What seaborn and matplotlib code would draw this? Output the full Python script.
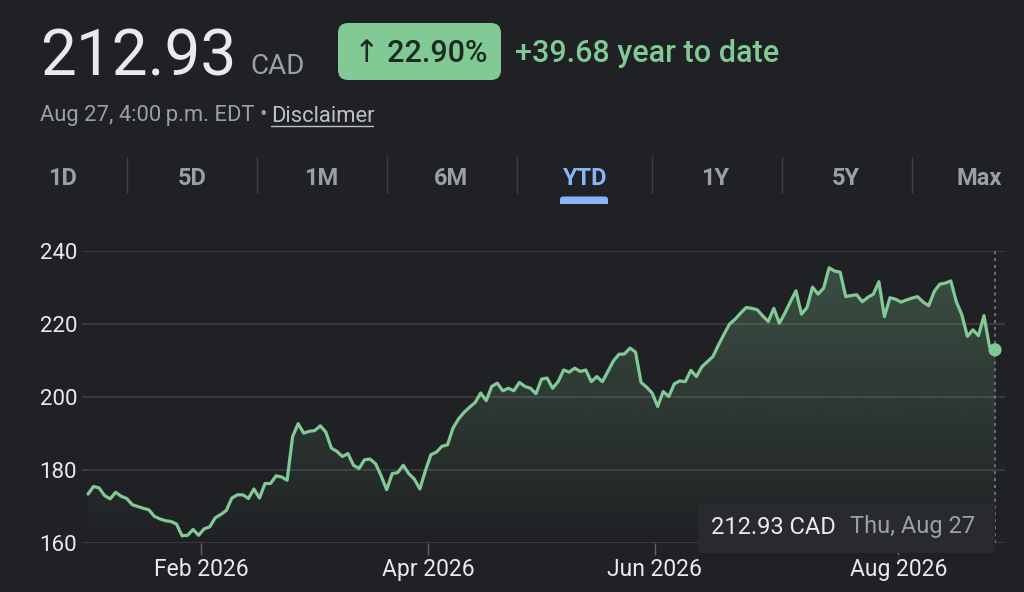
import numpy as np
import pandas as pd
import matplotlib
matplotlib.use("Agg")
import matplotlib.pyplot as plt
import seaborn as sns
from matplotlib.patches import FancyBboxPatch, Rectangle
from matplotlib.lines import Line2D
from matplotlib.colors import to_rgb

# ---------------- data ----------------
holidays = ["2026-01-01", "2026-02-16", "2026-04-03", "2026-05-18", "2026-07-01", "2026-08-03"]
prices = [
    173.4, 175.5, 175.1, 173.0, 172.1, 173.9, 172.8, 172.2, 170.5, 170.0,
    169.5, 169.1, 167.3, 166.6, 166.1, 165.9, 165.2, 162.0, 162.1, 163.7,
    162.1, 163.9, 164.4, 166.9, 167.8, 168.9, 172.3, 173.2, 173.2, 172.2,
    174.8,
    172.3, 176.3, 176.3, 178.4, 178.1, 177.2, 189.2, 192.7, 190.1, 190.6,
    190.8, 192.1, 190.4, 186.0, 185.1, 183.7, 184.5, 181.3, 180.4, 182.8,
    183.0, 181.7, 178.4, 174.6, 179.0, 179.3, 181.3, 179.0, 177.5, 174.8,
    179.8, 184.2, 184.9, 186.5, 186.9,
    191.5, 194.0, 195.8, 197.2, 198.5, 201.1, 199.0, 202.9, 203.8, 201.7,
    202.4, 201.7, 204.0, 202.9, 202.4, 200.9, 204.9, 205.2, 202.4, 204.2,
    207.4, 206.8, 207.9, 207.0, 207.4, 204.2, 205.6, 204.2, 207.0, 209.9,
    211.7, 211.8, 213.4, 212.3, 204.0, 202.7, 201.1, 197.4, 201.5, 200.1,
    203.6, 204.4, 204.2, 207.3, 205.6, 208.3, 209.7, 211.1, 214.3, 217.2,
    220.0, 221.3, 223.0, 224.5, 224.3, 223.9, 222.2, 220.7, 224.3, 220.2,
    223.0, 226.1, 229.1, 222.7, 224.5, 230.1, 228.2, 229.8, 235.4, 234.5,
    234.2, 227.5, 227.8, 228.0, 226.1, 227.3, 228.2, 231.6, 222.0, 227.2,
    226.8, 226.0, 226.6, 227.1, 227.5, 226.0, 225.0, 228.9, 230.9, 231.2,
    231.8, 226.1, 222.5, 216.6, 218.4, 216.8, 222.3, 213.8, 212.93,
]
y_ticks = [160, 180, 200, 220, 240]
x_tick_months = ["2026-02-01", "2026-04-01", "2026-06-01", "2026-08-01"]
x_tick_labels = ["Feb 2026", "Apr 2026", "Jun 2026", "Aug 2026"]
tabs = ["1D", "5D", "1M", "6M", "YTD", "1Y", "5Y", "Max"]
active_tab = "YTD"

price_text = "212.93"
currency = "CAD"
pct_text = "\u2191 22.90%"
change_text = "+39.68 year to date"
stamp_text = "Aug 27, 4:00\u2009p.m. EDT \u2022"
disclaimer = "Disclaimer"
tip_price = "212.93 CAD"
tip_date = "Thu, Aug 27"

dates = pd.bdate_range("2026-01-02", "2026-08-27")
dates = dates[~dates.isin(pd.to_datetime(holidays))]
n = min(len(dates), len(prices))
df = pd.DataFrame({"date": dates[:n], "price": prices[:n], "idx": np.arange(n)})

# ---------------- style ----------------
BG = "#202124"
GREEN = "#81c995"
GRID = "#3c4043"
WHITE = "#e8eaed"
GREY = "#9aa0a6"
BLUE = "#8ab4f8"

sns.set_theme(style="dark")
plt.rcParams["font.family"] = ["Roboto", "DejaVu Sans"]
plt.rcParams["figure.facecolor"] = BG
plt.rcParams["axes.facecolor"] = BG

W, H = 1024, 592
fig = plt.figure(figsize=(W / 100, H / 100), dpi=100)
T = fig.dpi_scale_trans


def px(x, y):
    return x / 100, (H - y) / 100


ax = fig.add_axes([82 / W, (H - 543) / H, 923 / W, 292 / H])
ax.set_facecolor(BG)

xmin, xmax = -1.085, 165.8
ymin, ymax = 160, 240

# gradient fill under the line
poly = ax.fill_between(df["idx"], df["price"], ymin, color="none", lw=0)
grad = np.linspace(0, 1, 256).reshape(-1, 1)
rgba = np.zeros((256, 1, 4))
rgba[..., :3] = to_rgb(GREEN)
rgba[..., 3] = grad[..., 0:1] * 0.29
im = ax.imshow(rgba, extent=[xmin, xmax, ymin, ymax], origin="lower",
               aspect="auto", zorder=1, interpolation="bilinear")
im.set_clip_path(poly.get_paths()[0], transform=ax.transData)

sns.lineplot(data=df, x="idx", y="price", ax=ax, color=GREEN, linewidth=2.3,
             estimator=None, zorder=3)
ax.axvline(df["idx"].iloc[-1], color="#80868b", lw=1.1, ls=(0, (2, 2.5)), zorder=2)
ax.scatter([df["idx"].iloc[-1]], [df["price"].iloc[-1]], s=90, color=GREEN,
           zorder=4, edgecolors="none")

ax.set_xlim(xmin, xmax)
ax.set_ylim(ymin, ymax)
for s in ax.spines.values():
    s.set_visible(False)

ax.set_yticks(y_ticks)
ax.set_yticklabels([str(v) for v in y_ticks])
ax.yaxis.grid(True, color=GRID, lw=1.2)
ax.xaxis.grid(False)
ax.tick_params(axis="y", length=0, pad=30.5, labelsize=16, labelcolor=WHITE)
for lbl in ax.get_yticklabels():
    lbl.set_horizontalalignment("left")

tick_pos = [df["idx"][df["date"] >= pd.Timestamp(m)].iloc[0] - 0.5 for m in x_tick_months]
ax.set_xticks(tick_pos)
ax.set_xticklabels(x_tick_labels)
ax.tick_params(axis="x", length=8.5, width=1.0, color="#5f6368", pad=2.5,
               labelsize=16.5, labelcolor=WHITE, bottom=True)
ax.set_xlabel("")
ax.set_ylabel("")

# ---------------- header ----------------
fig.text(*px(40, 75), price_text, transform=T, fontsize=46, color=WHITE,
         ha="left", va="baseline")
fig.text(*px(250, 74.5), currency, transform=T, fontsize=20, color=GREY,
         ha="left", va="baseline")
badge = FancyBboxPatch(px(338, 80), 1.63, 0.57,
                       boxstyle="round,pad=0,rounding_size=0.1",
                       fc=GREEN, ec="none", transform=T)
fig.add_artist(badge)
fig.text(*px(421, 61.7), pct_text, transform=T, fontsize=22, color="#1d2a21",
         ha="center", va="baseline", fontweight="medium")
fig.text(*px(515, 61.7), change_text, transform=T, fontsize=22, color=GREEN,
         ha="left", va="baseline", fontweight="medium")

fig.text(*px(40, 121.5), stamp_text, transform=T, fontsize=15.8, color=GREY,
         ha="left", va="baseline")
fig.text(*px(271, 121.5), disclaimer, transform=T, fontsize=15.8, color="#bdc1c6",
         ha="left", va="baseline")
fig.add_artist(Line2D([2.71, 3.725], [(H - 125.5) / 100] * 2, transform=T,
                      color="#bdc1c6", lw=1.0))

# tabs
tab_x = [62, 192, 321, 451, 584, 715.5, 846, 979]
sep_x = [127, 257, 387, 517, 652, 782, 912]
for t, x in zip(tabs, tab_x):
    fig.text(*px(x, 185), t, transform=T, fontsize=17, ha="center", va="baseline",
             color=BLUE if t == active_tab else GREY, fontweight="semibold")
for x in sep_x:
    fig.add_artist(Line2D([x / 100, x / 100], [(H - 157) / 100, (H - 193) / 100],
                          transform=T, color=GRID, lw=1.0))
ux = tab_x[tabs.index(active_tab)]
fig.add_artist(FancyBboxPatch(px(ux - 24, 203.5), 0.48, 0.07,
                              boxstyle="round,pad=0,rounding_size=0.03",
                              fc=BLUE, ec="none", transform=T))
fig.add_artist(Rectangle(px(ux - 24, 203.5), 0.48, 0.035, fc=BLUE, ec="none",
                         transform=T))

# tooltip
tip = FancyBboxPatch(px(698, 553), 2.97, 0.5,
                     boxstyle="round,pad=0,rounding_size=0.04",
                     fc="#292a2d", ec="none", transform=T, zorder=5)
fig.add_artist(tip)
fig.text(*px(711, 533.5), tip_price, transform=T, fontsize=17, color=WHITE,
         ha="left", va="baseline", zorder=6)
fig.text(*px(850, 533.5), tip_date, transform=T, fontsize=17, color=GREY,
         ha="left", va="baseline", zorder=6)

fig.savefig("out.png", dpi=100, facecolor=BG)
